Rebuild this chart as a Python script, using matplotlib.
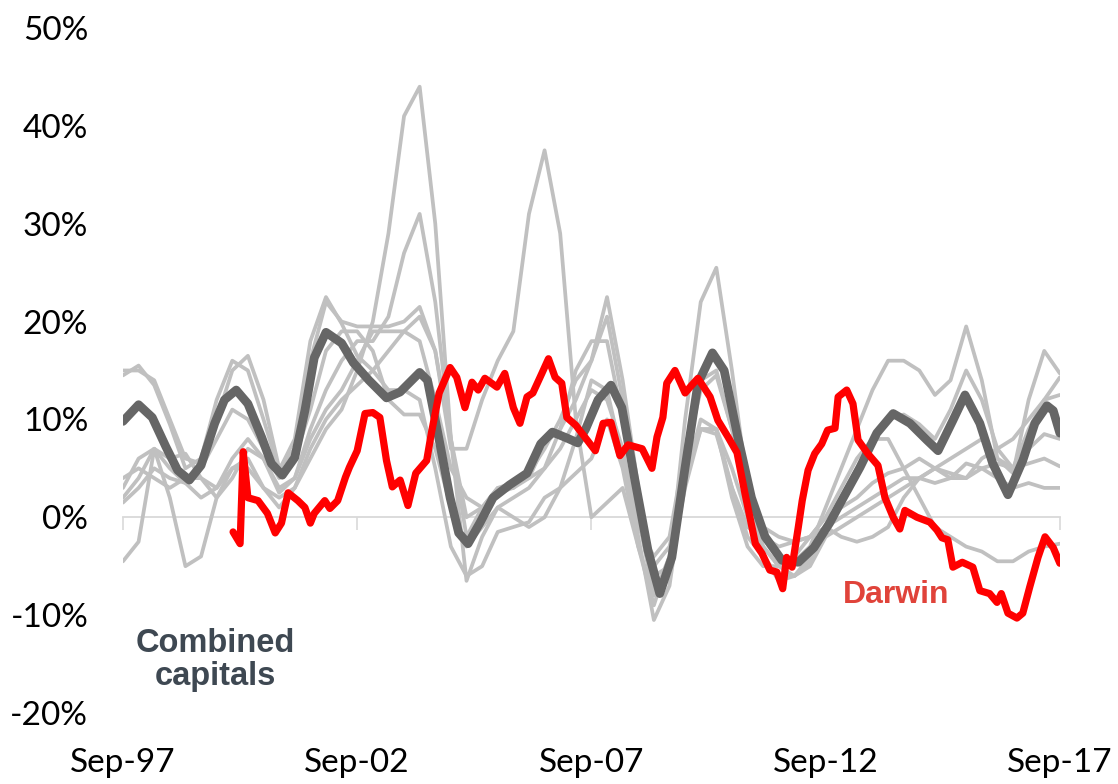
import matplotlib
matplotlib.use("Agg")
import matplotlib.pyplot as plt

# ---------------- data (annual % change, months since Sep-97) ----------------
tick_months = [0, 60, 120, 180, 240]
tick_labels = ["Sep-97", "Sep-02", "Sep-07", "Sep-12", "Sep-17"]
y_ticks = [-20, -10, 0, 10, 20, 30, 40, 50]

# individual capital cities (grey), sampled every 4 months from Sep-97
city_months = list(range(0, 241, 4))
sydney = [14.5, 15.5, 13.5, 9.5, 5, 6, 12, 16, 15, 10, 4.8, 8, 18, 22.5, 19.8, 16.5, 15, 13, 13, 12,
          5, -3, -6, -5, -1.5, -1, -0.5, 2, 3, 4.5, 6, 10, 5, -3, -8, -4, 6, 13, 14.5, 9,
          2, -3, -5, -4.5, -3, 1, 5, 9, 13, 16, 16, 15, 12.5, 14, 19.5, 14, 6, 4.5, 12, 17, 14.7]
melbourne = [15, 15, 14, 10, 6, 5.5, 10, 15, 16.5, 12, 5, 7, 16, 22, 20, 19.5, 19.5, 19.5, 20, 21.5,
             17, 8, 0, 1, 3, 3.5, 4, 5, 9, 15, 18, 18, 10, 0, -8, -5, 10, 22, 25.5, 15,
             3, -4, -6.5, -6, -4.5, -1, 2, 5, 8, 10, 10.5, 9.5, 8, 11, 15, 12, 7, 5, 9, 12, 14.3]
brisbane = [2, 4, 7, 6, 6.5, 4, 3, 6, 8, 6, 3, 4, 9, 13, 16, 18, 18, 20.5, 27, 31,
            22, 8, -2, 1, 3, 3, 4, 7.5, 9, 12, 16, 22.5, 14, 3, -6, -5, 3, 9, 9, 5,
            0, -3, -5, -6, -5, -2, -1, 0, 1, 2, 3, 4, 3.5, 4, 5.5, 5, 4, 3, 3.5, 3, 3]
adelaide = [4, 5, 4, 3, 4, 4, 2, 4, 7, 6, 2.5, 4, 8, 11, 13, 16, 19, 19, 19, 18,
            12, 5, 2, 1, 2.5, 3, 4.5, 7, 10, 14, 16, 20.5, 12, 1, -5, -3, 4, 9, 8.5, 3,
            -1, -2, -3, -2.5, -2, 0, 1, 2, 3.5, 4.5, 5, 6, 5, 4, 4, 5, 5.5, 5, 5.5, 6, 5.2]
perth = [3, 6, 7, 5, 3.5, 2, 3, 5, 5, 3, 2, 3, 7, 10, 12, 13.5, 15, 17, 19, 20.5,
         17, 7, 7, 12, 16, 19, 31, 37.5, 29, 10, 0, 1.5, 3, -3, -9, -4, 6, 9, 9, 2,
         -3, -5, -5, -4, -2, 0, 3, 6, 8, 8, 5, 2, -1, -2, -3, -3.5, -4.5, -4.5, -3.5, -3, -2.7]
hobart = [-4.5, -2.5, 7, 2, -5, -4, 2, 5, 6, 3, 1, 3, 6, 9, 11, 15, 20, 29, 41, 44,
          30, 8, -6.5, -2, 1, 0, -1, 0, 3, 8, 14, 13, 6, -2, -10.5, -7, 4, 10, 9, 3,
          -2, -4, -6, -6, -4, -1, -2, -2.5, -2, -1, 2, 4, 5, 4.5, 4, 6, 7, 8, 10, 12, 12.5]
canberra = [1.5, 3, 5, 4, 3.5, 5, 8, 11, 10, 7, 4, 6, 11, 17, 19, 19, 17, 12, 10.5, 10.5,
            7, 1, -3, -1, 1, 2, 3, 5, 7, 10, 13, 12, 7, -1, -4, -2, 7, 14, 15, 9,
            3, -1, -2, -2.5, -2, -1, 0, 1, 2, 3, 4, 4, 5, 6, 7, 8, 6, 5, 7, 8.5, 8]

# combined capitals (dark grey)
combined_months = [0, 4, 7.5, 11, 14, 17, 20, 23.5, 26, 29, 32, 35.5, 38, 40.8, 44, 46.6, 49, 52, 56, 59,
                   63, 67.5, 71, 76, 78, 81, 83.8, 86, 88.4, 91.4, 94.8, 99, 103.5, 107, 110, 113.7,
                   116.5, 118.5, 121.7, 125, 127.8, 131, 134.5, 137.5, 140.6, 144, 147.3, 151, 154,
                   157.5, 161, 164.5, 168.8, 173, 177, 181, 183.7, 188.8, 193.1, 197.3, 201.6, 205.9,
                   208.8, 212.6, 215.7, 219.5, 222.8, 226.7, 230.5, 233.6, 236.7, 238.3, 240]
combined = [9.8, 11.5, 10.2, 7.2, 4.8, 3.8, 5.3, 9.6, 12, 13, 11.6, 8.2, 5.5, 4.3, 6.1, 10.9, 16.3, 18.9,
            17.8, 15.8, 14.0, 12.2, 12.8, 14.8, 14, 7.9, 2, -1.6, -2.7, -0.6, 2, 3.3, 4.5, 7.5, 8.7,
            8.1, 7.6, 9, 12, 13.5, 11.2, 4.1, -3.4, -7.8, -4.1, 5.1, 13.7, 16.8, 15, 8.2, 2, -2,
            -4.4, -4.6, -3.1, -0.6, 1.4, 5.1, 8.6, 10.6, 9.6, 7.9, 6.8, 9.9, 12.5, 9.6, 5.5, 2.3,
            5.8, 9.6, 11.4, 10.9, 8.6]

# Darwin (red)
darwin_months = [28.2, 30, 30.8, 32, 34.6, 37, 39, 40.6, 42.3, 44.8, 46.6, 48, 49, 51.7, 53, 55, 57, 58,
                 60, 62, 64, 65.8, 67.5, 69, 71, 73, 75, 77.8, 79, 81, 83.8, 85.5, 87.6, 89.4, 91,
                 92.7, 95.8, 97.8, 100, 101.7, 103.5, 105, 107.3, 109, 110.7, 112.4, 113.7, 116,
                 118.3, 121, 123, 125, 127.3, 129.4, 133, 135.5, 136.8, 138.3, 139.3, 141.4, 144,
                 145.7, 147.3, 150.4, 152.4, 155, 157.3, 159.3, 162, 163.7, 165.7, 167.5, 169, 170,
                 171.4, 173, 174, 175.5, 177.2, 179, 180.5, 182.4, 183.2, 185.4, 187, 188.3, 190.8,
                 193.4, 195.2, 197.3, 199, 200.3, 203.4, 206.7, 208.5, 209.8, 211.3, 212.6, 215,
                 217.7, 219.5, 222, 223.9, 225, 226.7, 229, 230.5, 232.3, 234.4, 236.2, 238.3, 240]
darwin = [-1.5, -2.7, 6.7, 2.0, 1.7, 0.4, -1.6, -0.6, 2.5, 1.7, 1.0, -0.6, 0.4, 1.7, 0.9, 1.7, 4.1, 5.1,
          6.8, 10.6, 10.7, 10.2, 5.8, 3.1, 3.8, 1.2, 4.5, 5.8, 8.6, 12.7, 15.3, 14.3, 11.2, 13.8, 13.0,
          14.2, 13.3, 14.7, 11.2, 9.6, 12.3, 12.7, 14.7, 16.2, 14.3, 13.7, 10.2, 9.4, 8.2, 6.8, 9.6,
          9.7, 6.3, 7.4, 7.0, 5.0, 8.2, 10.2, 13.7, 15.0, 12.7, 13.5, 14.2, 12.3, 9.9, 8.2, 6.6, 2.5,
          -2.7, -3.7, -5.4, -5.6, -7.3, -4.1, -5.1, -1.0, 1.7, 4.8, 6.5, 7.5, 8.9, 9.1, 12.3, 13.0,
          11.6, 7.9, 6.5, 5.3, 2.0, 0.0, -1.2, 0.7, 0.0, -0.5, -1.3, -2.1, -2.3, -5.1, -4.6, -5.1,
          -7.5, -7.8, -8.7, -7.8, -9.8, -10.3, -9.8, -7.1, -4.1, -2.0, -3.1, -4.7]

# ---------------- figure ----------------
plt.rcParams['font.family'] = ['Lato', 'DejaVu Sans']
fig = plt.figure(figsize=(11.18, 7.84), dpi=100)
ax = fig.add_axes([0.110, 0.0906, 0.838, 0.8737])

grey = "#c0c0c0"
for series in [sydney, melbourne, brisbane, adelaide, perth, hobart, canberra]:
    ax.plot(city_months, series, color=grey, lw=2.7, solid_joinstyle='round',
            solid_capstyle='round', zorder=2)

ax.plot(combined_months, combined, color="#666666", lw=6.3, solid_joinstyle='round',
        solid_capstyle='round', zorder=3)
ax.plot(darwin_months, darwin, color="#ff0000", lw=5.2, solid_joinstyle='round',
        solid_capstyle='round', zorder=4)

ax.set_xlim(0, 240)
ax.set_ylim(-20, 50)

for s in ['top', 'right', 'left']:
    ax.spines[s].set_visible(False)
ax.spines['bottom'].set_position(('data', 0))
ax.spines['bottom'].set_color("#d9d9d9")
ax.spines['bottom'].set_linewidth(1.3)
ax.spines['bottom'].set_zorder(1)
ax.set_xticks(tick_months)
ax.tick_params(axis='x', direction='out', length=9, width=1.2, color="#d9d9d9",
               labelbottom=False)

ax.set_yticks(y_ticks)
ax.set_yticklabels([f"{v}%" for v in y_ticks])
ax.tick_params(axis='y', length=0, pad=25, labelsize=24)
for lab in ax.get_yticklabels():
    lab.set_horizontalalignment('right')

sec = ax.secondary_xaxis(-0.0)
sec.set_xticks(tick_months)
sec.set_xticklabels(tick_labels)
sec.spines['bottom'].set_visible(False)
sec.tick_params(axis='x', length=0, pad=25, labelsize=24)

ax.text(23.6, -14.6, "Combined\ncapitals", ha='center', va='center', fontsize=23.5,
        fontweight='bold', color="#3e4852", family=['Liberation Sans', 'DejaVu Sans'],
        linespacing=1.1)
ax.text(198, -7.9, "Darwin", ha='center', va='center', fontsize=23, fontweight='bold',
        color="#e0433a", family=['Liberation Sans', 'DejaVu Sans'])

fig.savefig("out.png", dpi=100)
